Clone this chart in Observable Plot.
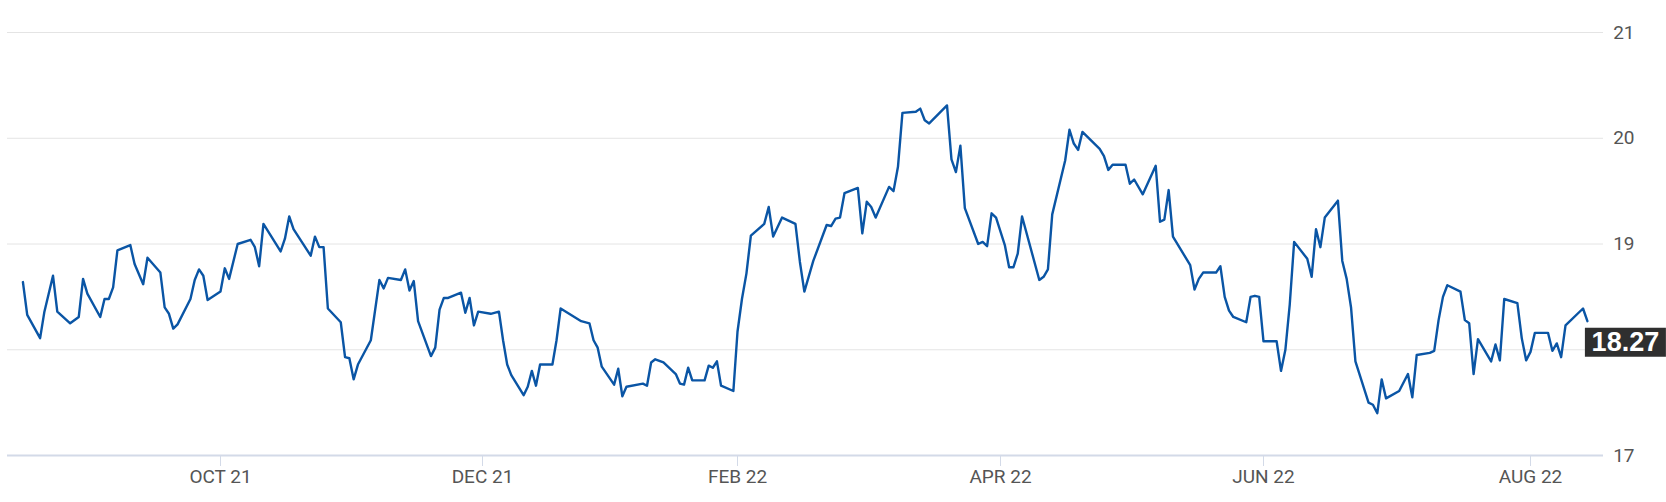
<!DOCTYPE html>
<html><head><meta charset="utf-8">
<script src="https://cdn.jsdelivr.net/npm/d3@7"></script>
<script src="https://cdn.jsdelivr.net/npm/@observablehq/plot@0.6"></script>
<style>html,body{margin:0;padding:0;background:#fff;} #chart svg{display:block;}</style>
</head><body><div id="chart"></div>
<script>
const dates = [
"2021-08-16","2021-08-17","2021-08-20","2021-08-21","2021-08-23","2021-08-24","2021-08-27","2021-08-29","2021-08-30","2021-08-31",
"2021-09-03","2021-09-04","2021-09-05","2021-09-06","2021-09-07","2021-09-10","2021-09-11","2021-09-13","2021-09-14","2021-09-17",
"2021-09-18","2021-09-19","2021-09-20","2021-09-21","2021-09-24","2021-09-25","2021-09-26","2021-09-27","2021-09-28","2021-10-01",
"2021-10-02","2021-10-03","2021-10-05","2021-10-08","2021-10-09","2021-10-10","2021-10-11","2021-10-15","2021-10-16","2021-10-17",
"2021-10-18","2021-10-22","2021-10-23","2021-10-24","2021-10-25","2021-10-26","2021-10-29","2021-10-30","2021-10-31","2021-11-01",
"2021-11-02","2021-11-05","2021-11-07","2021-11-08","2021-11-09","2021-11-12","2021-11-13","2021-11-14","2021-11-15","2021-11-16",
"2021-11-19","2021-11-20","2021-11-21","2021-11-22","2021-11-23","2021-11-26","2021-11-27","2021-11-28","2021-11-29","2021-11-30",
"2021-12-03","2021-12-05","2021-12-06","2021-12-07","2021-12-08","2021-12-11","2021-12-12","2021-12-13","2021-12-14","2021-12-15",
"2021-12-18","2021-12-19","2021-12-20","2021-12-25","2021-12-27","2021-12-28","2021-12-29","2021-12-30","2022-01-02","2022-01-03",
"2022-01-04","2022-01-05","2022-01-09","2022-01-10","2022-01-11","2022-01-12","2022-01-14","2022-01-17","2022-01-18","2022-01-19",
"2022-01-20","2022-01-21","2022-01-24","2022-01-25","2022-01-26","2022-01-27","2022-01-28","2022-01-31","2022-02-01","2022-02-02",
"2022-02-03","2022-02-04","2022-02-07","2022-02-08","2022-02-09","2022-02-11","2022-02-14","2022-02-15","2022-02-16","2022-02-18",
"2022-02-21","2022-02-22","2022-02-23","2022-02-24","2022-02-25","2022-02-28","2022-03-01","2022-03-02","2022-03-03","2022-03-04",
"2022-03-07","2022-03-08","2022-03-09","2022-03-10","2022-03-13","2022-03-14","2022-03-15","2022-03-16","2022-03-20","2022-03-21",
"2022-03-22","2022-03-23","2022-03-24","2022-03-27","2022-03-28","2022-03-29","2022-03-30","2022-03-31","2022-04-02","2022-04-03",
"2022-04-04","2022-04-05","2022-04-06","2022-04-10","2022-04-11","2022-04-12","2022-04-13","2022-04-16","2022-04-17","2022-04-18",
"2022-04-19","2022-04-20","2022-04-23","2022-04-24","2022-04-25","2022-04-26","2022-04-27","2022-04-30","2022-05-01","2022-05-02",
"2022-05-04","2022-05-07","2022-05-08","2022-05-09","2022-05-10","2022-05-11","2022-05-15","2022-05-16","2022-05-17","2022-05-18",
"2022-05-21","2022-05-22","2022-05-23","2022-05-24","2022-05-25","2022-05-28","2022-05-29","2022-05-30","2022-05-31","2022-06-01",
"2022-06-04","2022-06-05","2022-06-06","2022-06-07","2022-06-08","2022-06-11","2022-06-12","2022-06-13","2022-06-14","2022-06-15",
"2022-06-18","2022-06-19","2022-06-20","2022-06-21","2022-06-22","2022-06-25","2022-06-26","2022-06-27","2022-06-28","2022-06-29",
"2022-07-02","2022-07-04","2022-07-05","2022-07-06","2022-07-09","2022-07-10","2022-07-11","2022-07-12","2022-07-13","2022-07-16",
"2022-07-17","2022-07-18","2022-07-19","2022-07-20","2022-07-23","2022-07-24","2022-07-25","2022-07-26","2022-07-29","2022-07-30",
"2022-07-31","2022-08-01","2022-08-02","2022-08-05","2022-08-06","2022-08-07","2022-08-08","2022-08-09","2022-08-13","2022-08-14"
];
const values = [
18.64,18.33,18.11,18.36,18.70,18.36,18.25,18.31,18.67,18.53,
18.31,18.48,18.48,18.59,18.94,18.99,18.81,18.62,18.87,18.73,
18.40,18.34,18.20,18.24,18.48,18.66,18.76,18.70,18.47,18.55,
18.77,18.67,19.00,19.04,18.97,18.79,19.19,18.93,19.05,19.26,
19.14,18.89,19.07,18.97,18.97,18.39,18.26,17.93,17.92,17.72,
17.86,18.09,18.66,18.58,18.68,18.66,18.76,18.56,18.65,18.27,
17.94,18.02,18.38,18.49,18.49,18.54,18.35,18.49,18.23,18.36,
18.34,18.36,18.09,17.86,17.76,17.57,17.65,17.80,17.66,17.86,
17.86,18.09,18.39,18.27,18.25,18.09,18.02,17.84,17.67,17.82,
17.56,17.65,17.68,17.66,17.88,17.91,17.88,17.77,17.68,17.67,
17.83,17.71,17.71,17.85,17.83,17.89,17.66,17.61,18.17,18.48,
18.72,19.08,19.19,19.35,19.07,19.25,19.19,18.83,18.55,18.84,
19.18,19.17,19.24,19.25,19.48,19.53,19.10,19.40,19.35,19.25,
19.54,19.50,19.73,20.24,20.25,20.28,20.17,20.14,20.31,19.80,
19.68,19.93,19.34,19.00,19.02,18.98,19.29,19.25,18.99,18.78,
18.78,18.91,19.26,18.66,18.69,18.76,19.28,19.79,20.08,19.95,
19.89,20.06,19.94,19.90,19.83,19.70,19.75,19.75,19.57,19.61,
19.47,19.74,19.21,19.23,19.51,19.07,18.80,18.57,18.67,18.73,
18.73,18.79,18.50,18.37,18.31,18.26,18.50,18.51,18.50,18.08,
18.08,17.80,18.00,18.43,19.02,18.86,18.69,19.14,18.97,19.25,
19.41,18.84,18.67,18.40,17.89,17.50,17.48,17.40,17.72,17.54,
17.61,17.77,17.55,17.95,17.97,17.99,18.28,18.50,18.61,18.55,
18.28,18.25,17.77,18.10,17.89,18.05,17.90,18.48,18.44,18.11,
17.90,17.98,18.16,18.16,17.99,18.06,17.93,18.23,18.39,18.27
];
const tickDates = ["2021-10-01","2021-12-01","2022-02-01","2022-04-01","2022-06-01","2022-08-01"];
const tickLabels = ["OCT 21","DEC 21","FEB 22","APR 22","JUN 22","AUG 22"];
const yTicks = [17,18,19,20,21];
const gridTicks = [18,19,20,21];

const parse = d3.utcParse("%Y-%m-%d");
const data = dates.map((d, i) => ({date: parse(d), value: values[i]}));
const last = data[data.length - 1];
const tickDateObjs = tickDates.map(parse);
const labelFor = new Map(tickDateObjs.map((d, i) => [+d, tickLabels[i]]));
// y tick labels hidden behind the last-value badge are not shown (as in the reference)
const visibleYTicks = yTicks.filter(t => !(t < last.value && t > last.value - 0.4));

const boxSymbol = {draw(ctx) {
  ctx.moveTo(-40.5, -14.5); ctx.lineTo(40.5, -14.5); ctx.lineTo(40.5, 14.5); ctx.lineTo(-40.5, 14.5); ctx.closePath();
}};

const chart = Plot.plot({
  width: 1666,
  height: 502,
  marginTop: 32,
  marginBottom: 47,
  marginLeft: 7,
  marginRight: 63,
  style: {fontFamily: "Roboto, sans-serif", background: "#fff"},
  x: {type: "utc", domain: tickDateObjs, range: [220, 482, 737, 1000, 1263, 1530]},
  y: {domain: [17, 21]},
  marks: [
    Plot.ruleY(gridTicks, {stroke: "#e4e4e4", strokeWidth: 1}),
    Plot.ruleY([17], {stroke: "#d3dae8", strokeWidth: 2}),
    Plot.axisX({ticks: tickDateObjs, tickFormat: d => labelFor.get(+d), tickSize: 11, tickPadding: 3,
      stroke: "#d3dae8", fill: "#555", fontSize: 19, label: null}),
    Plot.axisY({ticks: [], label: null}),
    Plot.text(visibleYTicks, {y: d => d, text: d => String(d), frameAnchor: "right", dx: 31, textAnchor: "end",
      fill: "#555", fontSize: 19}),
    Plot.lineY(data, {x: "date", y: "value", stroke: "#0a55a5", strokeWidth: 2.4}),
    Plot.dot([last], {x: "date", y: "value", symbol: boxSymbol, fill: "#2f2f2f", stroke: null, dx: 38, dy: 21}),
    Plot.text([last], {x: "date", y: "value", text: d => d.value.toFixed(2), dx: 38, dy: 21, fill: "#fff",
      fontSize: 27, fontWeight: "bold", fontFamily: "Liberation Sans, Arial, sans-serif"})
  ]
});
document.getElementById("chart").append(chart);
</script>
</body></html>
